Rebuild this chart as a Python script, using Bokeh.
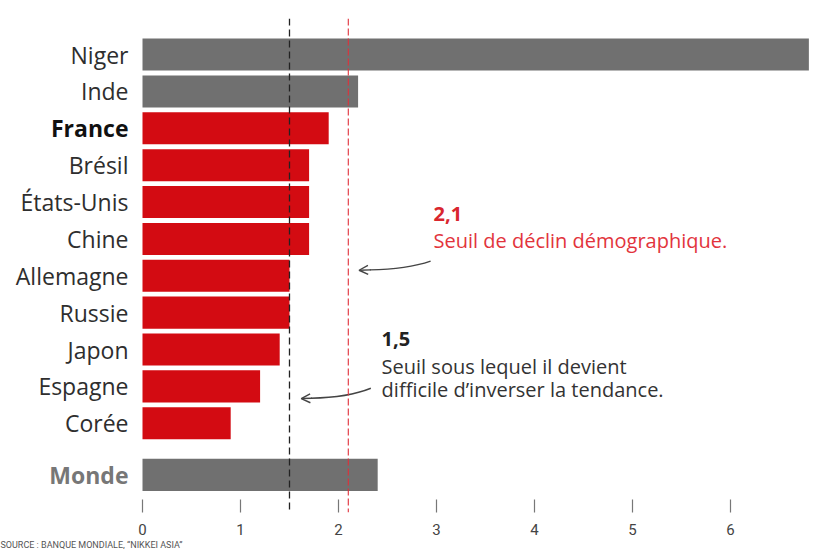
from bokeh.plotting import figure
from bokeh.models import Range1d, Span, Arrow, OpenHead, Title, FixedTicker, ColumnDataSource
from bokeh.core.properties import value
from bokeh.embed import file_html
from bokeh.resources import INLINE

# ---- data ----
countries = ["Niger", "Inde", "France", "Brésil", "États-Unis", "Chine",
             "Allemagne", "Russie", "Japon", "Espagne", "Corée", "Monde"]
fertility = [6.8, 2.2, 1.9, 1.7, 1.7, 1.7, 1.5, 1.5, 1.4, 1.2, 0.9, 2.4]
groups = ["autre", "autre", "focus", "rouge", "rouge", "rouge",
          "rouge", "rouge", "rouge", "rouge", "rouge", "monde"]
x_ticks = [0, 1, 2, 3, 4, 5, 6, 7]
seuil_declin = 2.1
seuil_inversion = 1.5
source_text = "SOURCE : BANQUE MONDIALE, \u201cNIKKEI ASIA\u201d"

# ---- styles ----
RED = "#D30B12"
GREY = "#707070"
bar_color = {"autre": GREY, "monde": GREY, "focus": RED, "rouge": RED}
lab_color = {"autre": "#2e2e2e", "monde": "#777777", "focus": "#111111", "rouge": "#2e2e2e"}
lab_style = {"autre": "normal", "monde": "bold", "focus": "bold", "rouge": "normal"}

world_gap = 0.4
rows = [i if g != "monde" else i + world_gap for i, g in enumerate(groups)]

src = ColumnDataSource(dict(
    y=rows, v=fertility, name=countries,
    bc=[bar_color[g] for g in groups],
    lc=[lab_color[g] for g in groups],
    ls=[lab_style[g] for g in groups],
))

p = figure(width=822, height=549, output_backend="svg", toolbar_location=None,
           x_range=Range1d(-1.449, 6.939), y_range=Range1d(12.42, -0.978),
           min_border_left=0, min_border_right=0, min_border_top=18, min_border_bottom=0)
p.outline_line_color = None
p.grid.visible = False
p.yaxis.visible = False
p.background_fill_color = "white"

p.hbar(y="y", left=0, right="v", height=0.87, source=src, fill_color="bc", line_color=None)

p.text(x=-0.143, y="y", text="name", source=src, text_align="right", text_baseline="middle",
       text_font=value("Open Sans"), text_font_size="23px", text_color="lc", text_font_style="ls")

# threshold lines
p.add_layout(Span(location=seuil_inversion, dimension="height", line_color="#222222",
                  line_dash="7 4", line_width=1.3))
p.add_layout(Span(location=seuil_declin, dimension="height", line_color="#E0303A",
                  line_dash="7 3", line_width=1.1))

# x axis
ax = p.xaxis[0]
ax.ticker = FixedTicker(ticks=x_ticks)
ax.axis_line_color = None
ax.major_tick_in = 13
ax.major_tick_out = 0
ax.minor_tick_line_color = None
ax.major_tick_line_color = "#777777"
ax.major_tick_line_width = 1.2
ax.major_label_standoff = 11
ax.major_label_text_font = "Roboto"
ax.major_label_text_font_size = "15px"
ax.major_label_text_color = "#444444"

# annotations
FONT = value("Open Sans")
p.text(x=[2.97], y=[4.32], text=["2,1"], text_font=FONT, text_font_size="20px",
       text_font_style="bold", text_color="#D9262E", text_baseline="middle")
p.text(x=[2.97], y=[5.05], text=["Seuil de déclin démographique."], text_font=FONT,
       text_font_size="20px", text_color="#E2343C", text_baseline="middle")
p.text(x=[2.44], y=[7.72], text=["1,5"], text_font=FONT, text_font_size="20px",
       text_font_style="bold", text_color="#222222", text_baseline="middle")
p.text(x=[2.44], y=[8.45], text=["Seuil sous lequel il devient"], text_font=FONT,
       text_font_size="20px", text_color="#333333", text_baseline="middle")
p.text(x=[2.44], y=[9.08], text=["difficile d\u2019inverser la tendance."], text_font=FONT,
       text_font_size="20px", text_color="#333333", text_baseline="middle")

# arrows (slightly curved)
p.quadratic(x0=[2.94], y0=[5.60], x1=[2.32], y1=[5.84], cx=[2.7], cy=[5.82],
            line_color="#444444", line_width=1.4)
p.add_layout(Arrow(end=OpenHead(size=9, line_color="#444444", line_width=1.4),
                   x_start=2.33, y_start=5.84, x_end=2.21, y_end=5.85,
                   line_color="#444444", line_width=1.4))
p.quadratic(x0=[2.33], y0=[9.05], x1=[1.72], y1=[9.32], cx=[2.1], cy=[9.3],
            line_color="#444444", line_width=1.4)
p.add_layout(Arrow(end=OpenHead(size=9, line_color="#444444", line_width=1.4),
                   x_start=1.73, y_start=9.32, x_end=1.62, y_end=9.33,
                   line_color="#444444", line_width=1.4))

p.add_layout(Title(text=source_text, align="left", text_font="Roboto", text_font_size="9px",
                   text_color="#555555", text_font_style="normal", standoff=0), "below")

open("out.html", "w").write(file_html(p, INLINE))
